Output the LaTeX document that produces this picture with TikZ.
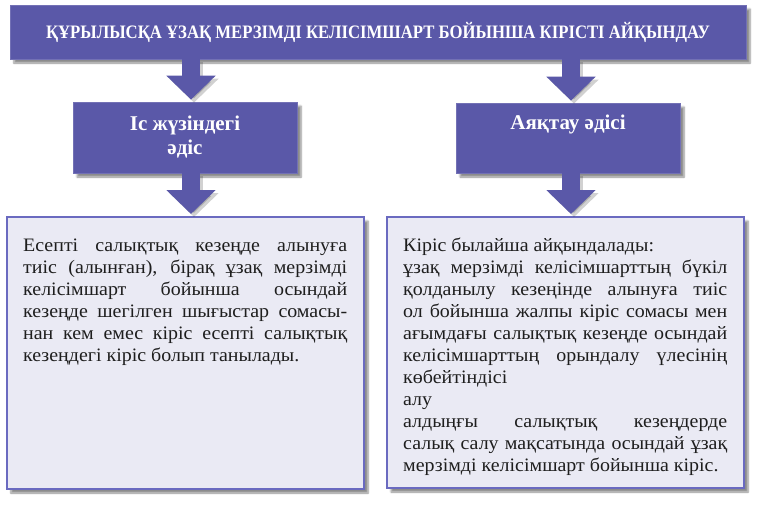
\documentclass[tikz,border=0pt]{standalone}
\usepackage{fontspec}
\setmainfont{Liberation Serif}
\newfontfamily\bodyfont[FakeStretch=1.05]{Liberation Serif}
\newfontfamily\titlefont[FakeStretch=0.88]{Liberation Serif}
\usetikzlibrary{arrows.meta,shadows.blur}
\definecolor{boxblue}{HTML}{5A58A8}
\definecolor{pale}{HTML}{EAEAF4}
\definecolor{edgeblue}{HTML}{6A6AC0}
\definecolor{ink}{HTML}{1E1E1E}
\begin{document}
\begin{tikzpicture}[x=1pt,y=-1pt,
  shad/.style={blur shadow={shadow xshift=4pt,shadow yshift=-4pt,shadow blur steps=6,shadow opacity=45}},
  headbox/.style={fill=boxblue, draw=boxblue!85!white, line width=0.8pt, shad, inner sep=0, text=white, align=center, font=\bfseries\fontsize{21}{24}\selectfont},
  textbox/.style={fill=pale, draw=edgeblue, line width=2pt, shad, inner sep=0},
  flow/.style={draw=boxblue, line width=18pt, -{Triangle[width=48pt,length=24pt]}},
  flowshadow/.style={draw=black, opacity=0.18, line width=18pt, -{Triangle[width=48pt,length=24pt]}, transform canvas={shift={(3,3)}}},
  body/.style={anchor=north west, inner sep=0, text width=324pt, align=justify, text=ink,
    font=\bodyfont\fontsize{19}{22}\selectfont,
    execute at begin node={\tolerance=10000\hyphenpenalty=10000\emergencystretch=20pt\strut}}]
\useasboundingbox (0,0) rectangle (760,504);

\node[headbox, minimum width=736pt, minimum height=54pt, font=\titlefont\bfseries\fontsize{19}{22}\selectfont] (title) at (378,32)
  {ҚҰРЫЛЫСҚА ҰЗАҚ МЕРЗІМДІ КЕЛІСІМШАРТ БОЙЫНША КІРІСТІ АЙҚЫНДАУ};
\node[headbox, minimum width=224pt, minimum height=71pt] (mid1) at (185,137.5)
  {Іс жүзіндегі\\әдіс};
\node[headbox, minimum width=224pt, minimum height=70pt] (mid2) at (568,138)
  {Аяқтау әдісі\\\strut};
\node[textbox, minimum width=357pt, minimum height=272pt] (low1) at (185.5,353) {};
\node[textbox, minimum width=357pt, minimum height=271pt] (low2) at (565.5,352.5) {};

\node[body] (t1) at (23,235.6) {Есепті салықтық кезеңде алынуға\linebreak
тиіс (алынған), бірақ ұзақ мерзімді\linebreak
келісімшарт бойынша осындай\linebreak
кезеңде шегілген шығыстар сомасы-\linebreak
нан кем емес кіріс есепті салықтық\linebreak
кезеңдегі кіріс болып танылады.};

\node[body] (t2) at (403,235.6) {Кіріс былайша айқындалады:\newline
ұзақ мерзімді келісімшарттың бүкіл\linebreak
қолданылу кезеңінде алынуға тиіс\linebreak
ол бойынша жалпы кіріс сомасы мен\linebreak
ағымдағы салықтық кезеңде осындай\linebreak
келісімшарттың орындалу үлесінің\linebreak
көбейтіндісі\newline
алу\newline
алдыңғы салықтық кезеңдерде\linebreak
салық салу мақсатында осындай ұзақ\linebreak
мерзімді келісімшарт бойынша кіріс.};

\coordinate (ax1) at (191,0);
\coordinate (ax2) at (571,0);

\foreach \s/\t/\a in {title/mid1/ax1, title/mid2/ax2, mid1/low1/ax1, mid2/low2/ax2}{
  \draw[flowshadow] (\s.south -| \a) -- ([yshift=2pt]\t.north -| \a);
  \draw[flow] (\s.south -| \a) -- ([yshift=2pt]\t.north -| \a);
}
\end{tikzpicture}
\end{document}
